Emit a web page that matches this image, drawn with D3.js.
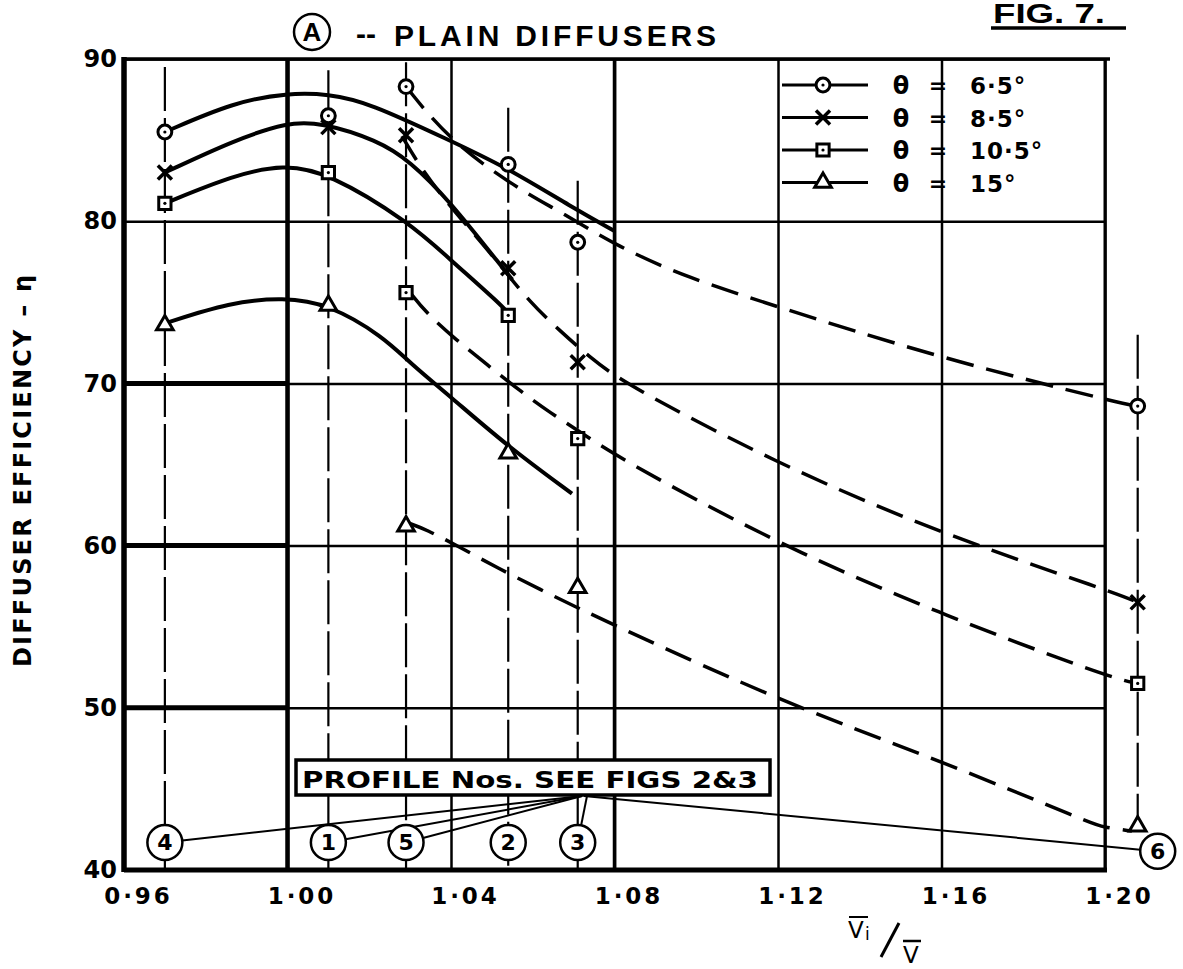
<!DOCTYPE html>
<html>
<head>
<meta charset="utf-8">
<script src="https://cdn.jsdelivr.net/npm/d3@7/dist/d3.min.js"></script>
<style>
  html, body { margin: 0; padding: 0; background: #fff; }
  svg { display: block; }
  text { font-family: "DejaVu Sans", sans-serif; font-weight: bold; fill: #000; }
</style>
</head>
<body>
<div id="chart"></div>
<script>
// Axis ticks
const xTicks = [0.96, 1.00, 1.04, 1.08, 1.12, 1.16, 1.20];
const xTickLabels = ["0·96", "1·00", "1·04", "1·08", "1·12", "1·16", "1·20"];
const yTicks = [40, 50, 60, 70, 80, 90];

// Profile stations: Vi/V of each profile, its number, top of its station line
const profileX   = [0.970, 1.010, 1.029, 1.054, 1.071, 1.208];
const profileNo  = ["4", "1", "5", "2", "3", "6"];
const profileTop = [89.5, 89.3, 89.8, 87.0, 82.5, 73.0];

// Cone angles
const angles = ["6·5°", "8·5°", "10·5°", "15°"];

// Measured efficiency at each profile (same order as profileX)
const eta65  = [85.5, 86.5, 88.3, 83.5, 78.7, 68.6];
const eta85  = [83.0, 85.8, 85.3, 77.1, 71.3, 56.5];
const eta105 = [81.1, 83.0, 75.6, 74.2, 66.6, 51.5];
const eta15  = [73.6, 74.8, 61.2, 65.7, 57.4, 42.7];

// Faired (solid) curves through profiles 4, 1, 2
const fair65  = [[0.970, 85.5], [0.987, 87.35], [1.000, 87.9], [1.010, 87.85], [1.020, 87.3],
                 [1.0395, 85.0], [1.053, 83.4], [1.070, 80.8], [1.080, 79.4]];
const fair85  = [[0.970, 83.0], [0.987, 85.0], [1.000, 86.1], [1.008, 86.1], [1.022, 85.0],
                 [1.030, 83.7], [1.0395, 81.3], [1.053, 77.0], [1.055, 76.4]];
const fair105 = [[0.970, 81.1], [0.987, 82.85], [0.999, 83.5], [1.010, 83.0], [1.030, 79.9],
                 [1.0395, 77.7], [1.0525, 74.8], [1.054, 74.3]];
const fair15  = [[0.970, 73.7], [0.986, 75.0], [0.999, 75.3], [1.010, 74.9], [1.0234, 72.9],
                 [1.0302, 71.2], [1.0398, 69.2], [1.0537, 66.15], [1.0696, 63.2]];

// Dashed curves through profiles 5, 3, 6
const dash65  = [[1.029, 88.3], [1.0395, 85.0], [1.056, 82.05], [1.0667, 80.6], [1.081, 78.4],
                 [1.098, 76.5], [1.119, 74.8], [1.159, 71.6], [1.205, 68.7], [1.208, 68.6]];
const dash85  = [[1.028, 85.25], [1.0324, 83.35], [1.0395, 81.0], [1.0464, 79.0], [1.052, 77.3],
                 [1.0593, 75.0], [1.0664, 73.3], [1.074, 71.6], [1.0823, 70.0], [1.119, 65.15],
                 [1.159, 60.8], [1.2024, 57.1], [1.208, 56.5]];
const dash105 = [[1.030, 75.6], [1.0341, 74.3], [1.0412, 72.7], [1.0486, 71.2], [1.0571, 69.5],
                 [1.0642, 68.2], [1.0723, 66.9], [1.0804, 65.5], [1.119, 60.2], [1.159, 55.85],
                 [1.2015, 51.84], [1.208, 51.5]];
const dash15  = [[1.0295, 61.4], [1.0339, 61.0], [1.0422, 59.9], [1.0515, 58.6], [1.0618, 57.3],
                 [1.0723, 56.0], [1.0826, 54.8], [1.0997, 52.8], [1.128, 49.7], [1.159, 46.8],
                 [1.1966, 42.9], [1.1993, 42.65], [1.2066, 42.4]];

const series = [
  { name: angles[0], eta: eta65,  fair: fair65,  dash: dash65,  sym: d3.symbolCircle,   size: 150, dot: true },
  { name: angles[1], eta: eta85,  fair: fair85,  dash: dash85,  sym: d3.symbolTimes,    size: 130, dot: false },
  { name: angles[2], eta: eta105, fair: fair105, dash: dash105, sym: d3.symbolSquare,   size: 150, dot: true },
  { name: angles[3], eta: eta15,  fair: fair15,  dash: dash15,  sym: d3.symbolTriangle, size: 120, dot: false }
];

const W = 1183, H = 969;
const x = d3.scaleLinear().domain([0.96, 1.20]).range([124, 1105]);
const y = d3.scaleLinear().domain([40, 90]).range([870, 59]);

const svg = d3.select("#chart").append("svg")
              .attr("width", W)
              .attr("height", H);
svg.append("rect").attr("width", W).attr("height", H).attr("fill", "#fff");

// Grid and tick labels
const gx = svg.append("g")
              .attr("transform", `translate(0,${y(40)})`)
              .call(d3.axisBottom(x).tickValues(xTicks)
                      .tickFormat((d, i) => xTickLabels[i])
                      .tickSize(-(y(40) - y(90))).tickPadding(18));
gx.select(".domain").remove();
gx.selectAll("line").attr("stroke", "#000").attr("stroke-width", 2.5);
gx.selectAll("text").attr("dx", 14).style("font-size", "23px").attr("letter-spacing", 3);

const gy = svg.append("g")
              .attr("transform", `translate(${x(0.96)},0)`)
              .call(d3.axisLeft(y).tickValues(yTicks)
                      .tickSize(-(x(1.20) - x(0.96))).tickPadding(7));
gy.select(".domain").remove();
gy.selectAll("line").attr("stroke", "#000").attr("stroke-width", 2.5);
gy.selectAll("text").style("font-size", "24px");

// heavier lines
svg.append("line").attr("x1", x(1.00)).attr("x2", x(1.00)).attr("y1", y(90)).attr("y2", y(40))
   .attr("stroke", "#000").attr("stroke-width", 4.5);
svg.append("line").attr("x1", x(1.08)).attr("x2", x(1.08)).attr("y1", y(90)).attr("y2", y(40))
   .attr("stroke", "#000").attr("stroke-width", 3.5);
svg.selectAll(".thick").data([50, 60, 70]).join("line")
   .attr("x1", x(0.96)).attr("x2", x(1.00))
   .attr("y1", d => y(d)).attr("y2", d => y(d))
   .attr("stroke", "#000").attr("stroke-width", 5);

// frame
svg.append("line").attr("x1", x(0.96)).attr("x2", x(0.96)).attr("y1", y(90) - 2).attr("y2", y(40) + 2)
   .attr("stroke", "#000").attr("stroke-width", 5.5);
svg.append("line").attr("x1", x(0.96)).attr("x2", x(1.20) + 2).attr("y1", y(40)).attr("y2", y(40))
   .attr("stroke", "#000").attr("stroke-width", 5);
svg.append("line").attr("x1", x(0.96)).attr("x2", x(1.20) + 5).attr("y1", y(90)).attr("y2", y(90))
   .attr("stroke", "#000").attr("stroke-width", 3.5);
svg.append("line").attr("x1", x(1.20)).attr("x2", x(1.20)).attr("y1", y(90)).attr("y2", y(40))
   .attr("stroke", "#000").attr("stroke-width", 3);

// profile station lines
svg.selectAll(".station").data(profileX).join("line")
   .attr("x1", d => x(d)).attr("x2", d => x(d))
   .attr("y1", (d, i) => y(profileTop[i]))
   .attr("y2", (d, i) => i === 5 ? y(eta15[5]) : y(40))
   .attr("stroke", "#000").attr("stroke-width", 2.2)
   .attr("stroke-dasharray", "44,7");

// curves
const line = d3.line()
               .x(d => x(d[0]))
               .y(d => y(d[1]))
               .curve(d3.curveBasis);

series.forEach(s => {
  svg.append("path").datum(s.fair)
     .attr("fill", "none").attr("stroke", "#000").attr("stroke-width", 4)
     .attr("d", line);
  svg.append("path").datum(s.dash)
     .attr("fill", "none").attr("stroke", "#000").attr("stroke-width", 3.5)
     .attr("stroke-dasharray", "28,13")
     .attr("d", line);
});

// markers
function drawMarker(g, s, px, py) {
  g.append("path")
   .attr("transform", `translate(${px},${py})`)
   .attr("d", d3.symbol().type(s.sym).size(s.size)())
   .attr("fill", "#fff").attr("stroke", "#000")
   .attr("stroke-width", s.sym === d3.symbolTimes ? 3.5 : 3);
  if (s.dot) {
    g.append("circle").attr("cx", px).attr("cy", py).attr("r", 1.6).attr("fill", "#000");
  }
}

series.forEach(s => {
  s.eta.forEach((v, i) => drawMarker(svg, s, x(profileX[i]), y(v)));
});

// legend
const legend = svg.append("g");
series.forEach((s, i) => {
  const ly = 85 + i * 32.5;
  legend.append("line").attr("x1", 782).attr("x2", 868).attr("y1", ly).attr("y2", ly)
        .attr("stroke", "#000").attr("stroke-width", 3);
  drawMarker(legend, s, 823, ly);
  legend.append("text").attr("x", 901).attr("y", ly + 9).attr("text-anchor", "middle")
        .style("font-size", "24px").text("θ");
  legend.append("text").attr("x", 938).attr("y", ly + 8).attr("text-anchor", "middle")
        .style("font-size", "22px").text("=");
  legend.append("text").attr("x", 970).attr("y", ly + 9)
        .style("font-size", "23px").attr("letter-spacing", 1).text(s.name);
});

// profile numbers box and leaders
svg.append("rect").attr("x", 296).attr("y", 760).attr("width", 474).attr("height", 35)
   .attr("fill", "#fff").attr("stroke", "#000").attr("stroke-width", 3.5);
svg.append("text").attr("x", 302).attr("y", 788)
   .attr("textLength", 456).attr("lengthAdjust", "spacingAndGlyphs")
   .style("font-size", "23px").style("font-weight", "bold")
   .text("PROFILE Nos.  SEE  FIGS  2&3");

const circR = 17.5;
const circles = profileX.map((d, i) => ({
  no: profileNo[i],
  cx: x(d) + (i === 5 ? 20 : 0),
  cy: y(i === 5 ? 41.15 : 41.7)
}));
const anchors = [[582, 796], [582, 796], [582, 796], null, [587, 796], [584, 796]];
circles.forEach((c, i) => {
  const a = anchors[i];
  if (!a) return;
  const ang = Math.atan2(a[1] - c.cy, a[0] - c.cx);
  svg.append("line")
     .attr("x1", c.cx + circR * Math.cos(ang)).attr("y1", c.cy + circR * Math.sin(ang))
     .attr("x2", a[0]).attr("y2", a[1])
     .attr("stroke", "#000").attr("stroke-width", 2);
});
const cg = svg.selectAll(".pno").data(circles).join("g")
              .attr("transform", d => `translate(${d.cx},${d.cy})`);
cg.append("circle").attr("r", circR).attr("fill", "#fff").attr("stroke", "#000").attr("stroke-width", 2.5);
cg.append("text").attr("text-anchor", "middle").attr("y", 8)
  .style("font-size", "22px").text(d => d.no);

// title
svg.append("circle").attr("cx", 312).attr("cy", 32).attr("r", 18)
   .attr("fill", "none").attr("stroke", "#000").attr("stroke-width", 2.5);
svg.append("text").attr("x", 312).attr("y", 41).attr("text-anchor", "middle")
   .style("font-family", "'Liberation Sans', Arial, sans-serif").style("font-size", "26px").text("A");
svg.append("text").attr("x", 356).attr("y", 44)
   .style("font-family", "'Liberation Sans', Arial, sans-serif").style("font-size", "30px").text("--");
svg.append("text").attr("x", 394).attr("y", 46)
   .attr("textLength", 322).attr("lengthAdjust", "spacing")
   .style("font-family", "'Liberation Sans', Arial, sans-serif").style("font-size", "30px")
   .text("PLAIN  DIFFUSERS");

// figure number
svg.append("text").attr("x", 993).attr("y", 23)
   .attr("textLength", 112).attr("lengthAdjust", "spacingAndGlyphs")
   .style("font-family", "'Liberation Sans Narrow', 'Liberation Sans', sans-serif").style("font-size", "27px")
   .text("FIG.  7.");
svg.append("line").attr("x1", 991).attr("x2", 1126).attr("y1", 28).attr("y2", 28)
   .attr("stroke", "#000").attr("stroke-width", 3.5);

// y axis title
svg.append("text")
   .attr("transform", "translate(31,471) rotate(-90)")
   .attr("text-anchor", "middle")
   .attr("textLength", 392).attr("lengthAdjust", "spacing")
   .style("font-size", "24px")
   .text("DIFFUSER  EFFICIENCY  –  η");

// x axis title  Vi / V (with bars)
const xt = svg.append("g");
xt.append("text").attr("x", 848).attr("y", 938).style("font-size", "23px").style("font-weight", "normal").text("V");
xt.append("text").attr("x", 865).attr("y", 940).style("font-size", "17px").style("font-weight", "normal").text("i");
xt.append("line").attr("x1", 849).attr("x2", 868).attr("y1", 917).attr("y2", 917).attr("stroke", "#000").attr("stroke-width", 2);
xt.append("line").attr("x1", 881).attr("x2", 899).attr("y1", 957).attr("y2", 923).attr("stroke", "#000").attr("stroke-width", 3);
xt.append("text").attr("x", 903).attr("y", 963).style("font-size", "23px").style("font-weight", "normal").text("V");
xt.append("line").attr("x1", 903).attr("x2", 921).attr("y1", 941).attr("y2", 941).attr("stroke", "#000").attr("stroke-width", 2.5);
</script>
</body>
</html>
